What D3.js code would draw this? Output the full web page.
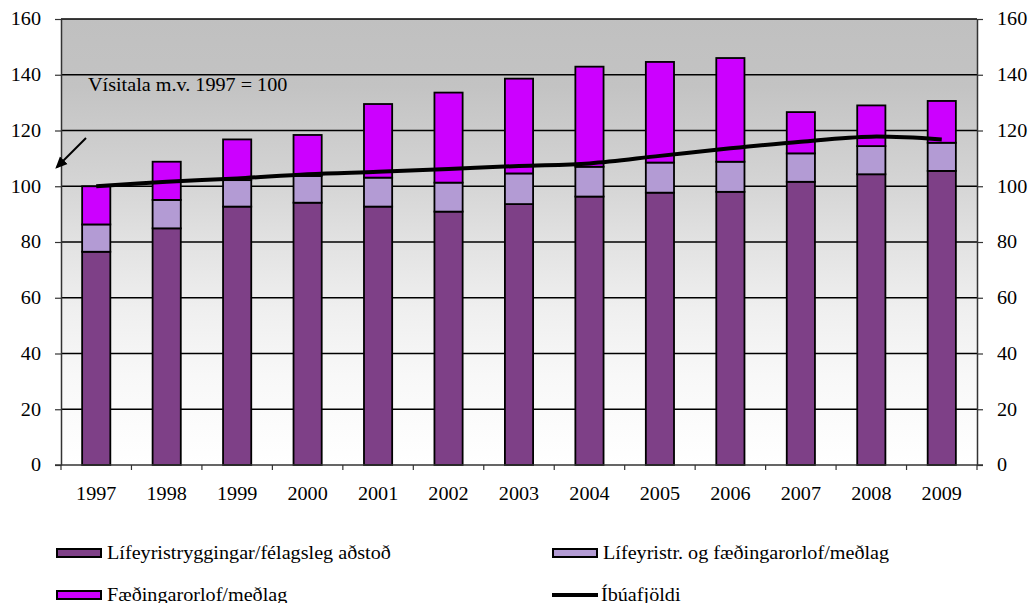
<!DOCTYPE html>
<html>
<head>
<meta charset="utf-8">
<script src="https://cdn.jsdelivr.net/npm/d3@7"></script>
<style>
  body { margin: 0; background: #fff; }
  svg text { font-family: "Liberation Serif", "Times New Roman", "DejaVu Serif", serif; fill: #000; }
</style>
</head>
<body>
<div id="chart"></div>
<script>
// Chart data
const years = ['1997','1998','1999','2000','2001','2002','2003','2004','2005','2006','2007','2008','2009'];

// Lífeyristryggingar/félagsleg aðstoð
const pension = [76.5, 84.9, 92.7, 94.1, 92.7, 90.9, 93.6, 96.3, 97.7, 98.0, 101.6, 104.3, 105.5];
// Lífeyristr. og fæðingarorlof/meðlag
const mixed = [9.8, 10.2, 9.5, 9.6, 10.4, 10.4, 11.0, 10.7, 10.8, 10.8, 10.2, 10.1, 10.1];
// Fæðingarorlof/meðlag
const parental = [13.7, 13.7, 14.6, 14.7, 26.4, 32.3, 34.0, 35.9, 36.1, 37.2, 14.8, 14.6, 15.0];
// Íbúafjöldi
const population = [100, 101.6, 102.8, 104.3, 105.2, 106.2, 107.3, 108.2, 110.9, 113.6, 116.0, 117.8, 116.8];

const yTicks = [0, 20, 40, 60, 80, 100, 120, 140, 160];

const C = {
  width: 1032,
  height: 603,
  margin: {left: 61, right: 55, top: 19, bottom: 138},
  colors: ['#7e4087', '#b39bd4', '#cc00ff'],
  names: ['Lífeyristryggingar/félagsleg aðstoð', 'Lífeyristr. og fæðingarorlof/meðlag', 'Fæðingarorlof/meðlag'],
  font_size: 18,
  text_stretch: 1.12, // the source picture is a little wider than tall
  font: '"Liberation Serif", "Times New Roman", "DejaVu Serif", serif',
};

const svg = d3.select('#chart').append('svg')
  .attr('width', C.width)
  .attr('height', C.height);

const x0 = C.margin.left, x1 = C.width - C.margin.right;
const y0 = C.height - C.margin.bottom, y1 = C.margin.top;

const X = d3.scaleBand().domain(years).range([x0, x1]).paddingInner(0.6).paddingOuter(0.3);
const Y = d3.scaleLinear().domain([0, 160]).range([y0, y1]);

const defs = svg.append('defs');

// Plot background gradient, grey on top fading to white
const grad = defs.append('linearGradient')
  .attr('id', 'bg').attr('x1', 0).attr('y1', 0).attr('x2', 0).attr('y2', 1);
[[0, '#c0c0c0'], [0.15, '#c3c3c3'], [0.35, '#d3d3d3'], [0.5, '#e2e2e2'], [0.65, '#efefef'], [0.8, '#f8f8f8'], [1, '#ffffff']]
  .forEach(([o, c]) => grad.append('stop').attr('offset', o).attr('stop-color', c));

svg.append('rect')
  .attr('x', x0).attr('y', y1)
  .attr('width', x1 - x0).attr('height', y0 - y1)
  .attr('fill', 'url(#bg)');

// Gridlines
svg.append('g').selectAll('line')
  .data(yTicks.filter(d => d > 0))
  .join('line')
  .attr('x1', x0).attr('x2', x1)
  .attr('y1', d => Y(d)).attr('y2', d => Y(d))
  .attr('stroke', '#000').attr('stroke-width', 1.4);

// Stacked bars
const stackData = years.map((yr, i) => ({year: yr, a: pension[i], b: mixed[i], c: parental[i]}));
const series = d3.stack().keys(['a', 'b', 'c'])(stackData);

svg.append('g').selectAll('g')
  .data(series)
  .join('g')
  .attr('fill', (d, i) => C.colors[i])
  .selectAll('rect')
  .data(d => d)
  .join('rect')
  .attr('x', d => X(d.data.year))
  .attr('width', X.bandwidth())
  .attr('y', d => Y(d[1]))
  .attr('height', d => Y(d[0]) - Y(d[1]))
  .attr('stroke', '#000')
  .attr('stroke-width', 1.8);

// Population line (smoothed)
const line = d3.line()
  .x((d, i) => X(years[i]) + X.bandwidth() / 2)
  .y(d => Y(d))
  .curve(d3.curveCatmullRom);

svg.append('path')
  .datum(population)
  .attr('d', line)
  .attr('fill', 'none')
  .attr('stroke', '#000')
  .attr('stroke-width', 4);

// Axes
const axisStyle = g => {
  g.attr('font-family', C.font);
  g.select('.domain').attr('stroke', '#333').attr('stroke-width', 1.5);
  g.selectAll('.tick line').attr('stroke', '#333').attr('stroke-width', 1.2);
  g.selectAll('text')
    .style('font-family', C.font)
    .style('font-size', C.font_size + 'px')
    .attr('fill', '#000');
};

svg.append('g')
  .attr('transform', `translate(${x0},0)`)
  .call(d3.axisLeft(Y).tickValues(yTicks).tickSize(6).tickSizeOuter(0).tickPadding(14))
  .call(axisStyle);

svg.append('g')
  .attr('transform', `translate(${x1},0)`)
  .call(d3.axisRight(Y).tickValues(yTicks).tickSize(6).tickSizeOuter(0).tickPadding(14))
  .call(axisStyle);

// Bottom axis: ticks at category boundaries
const xAxis = svg.append('g').attr('transform', `translate(0,${y0})`);
xAxis.append('line')
  .attr('x1', x0 - 6).attr('x2', x1 + 6)
  .attr('stroke', '#333').attr('stroke-width', 1.5);
xAxis.selectAll('line.tk')
  .data(d3.range(years.length + 1))
  .join('line')
  .attr('class', 'tk')
  .attr('x1', i => x0 + i * X.step()).attr('x2', i => x0 + i * X.step())
  .attr('y1', 0).attr('y2', 5)
  .attr('stroke', '#333').attr('stroke-width', 1.2);
xAxis.selectAll('text')
  .data(years)
  .join('text')
  .attr('x', d => X(d) + X.bandwidth() / 2)
  .attr('y', 35)
  .attr('text-anchor', 'middle')
  .style('font-size', C.font_size + 'px')
  .text(d => d);

// Annotation and arrow
svg.append('text')
  .attr('x', 88).attr('y', 91)
  .style('font-size', C.font_size + 'px')
  .text('Vísitala m.v. 1997 = 100');

defs.append('marker')
  .attr('id', 'arrow')
  .attr('viewBox', '0 0 10 10')
  .attr('refX', 8).attr('refY', 5)
  .attr('markerWidth', 6).attr('markerHeight', 6)
  .attr('orient', 'auto')
  .append('path')
  .attr('d', 'M0,0.5 L10,5 L0,9.5 Z')
  .attr('fill', '#000');

svg.append('line')
  .attr('x1', 86).attr('y1', 138)
  .attr('x2', 57).attr('y2', 167)
  .attr('stroke', '#000').attr('stroke-width', 2)
  .attr('marker-end', 'url(#arrow)');

// Legend
const legendItems = [
  {name: C.names[0], color: C.colors[0], x: 57, y: 553},
  {name: C.names[1], color: C.colors[1], x: 553, y: 553},
  {name: C.names[2], color: C.colors[2], x: 57, y: 595},
  {name: 'Íbúafjöldi', color: null, x: 552, y: 595},
];

const legend = svg.append('g').selectAll('g')
  .data(legendItems)
  .join('g')
  .attr('transform', d => `translate(${d.x},${d.y})`);

legend.filter(d => d.color)
  .append('rect')
  .attr('x', 0).attr('y', -4)
  .attr('width', 44).attr('height', 8)
  .attr('fill', d => d.color)
  .attr('stroke', '#000').attr('stroke-width', 2);

legend.filter(d => !d.color)
  .append('line')
  .attr('x1', 0).attr('x2', 46)
  .attr('y1', 0).attr('y2', 0)
  .attr('stroke', '#000').attr('stroke-width', 4);

legend.append('text')
  .attr('x', d => d.color ? 50 : 49)
  .attr('y', 6)
  .style('font-size', C.font_size + 'px')
  .text(d => d.name);

// Widen every text a little to match the source's proportions
svg.selectAll('text').each(function(){
  const len = this.getComputedTextLength();
  d3.select(this)
    .attr('textLength', len * C.text_stretch)
    .attr('lengthAdjust', 'spacingAndGlyphs');
});
</script>
</body>
</html>
